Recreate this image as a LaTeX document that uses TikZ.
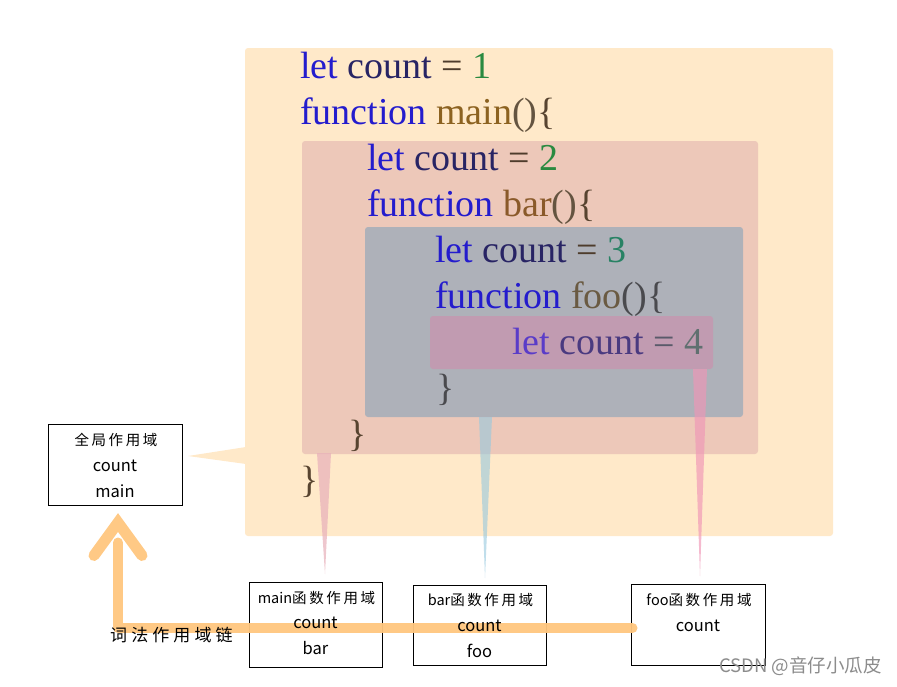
\documentclass[tikz,border=0pt]{standalone}
\usepackage{fontspec}
\setmainfont{Liberation Serif}
\newfontfamily\cjk{Noto Sans CJK SC}
\newfontfamily\cjkhead[LetterSpace=18]{Noto Sans CJK SC}
\newfontfamily\cjkwide[LetterSpace=24]{Noto Sans CJK SC}
\definecolor{orangebg}{RGB}{255,233,201}
\definecolor{redbg}{RGB}{237,200,185}
\definecolor{graybg}{RGB}{174,177,185}
\definecolor{pinkbg}{RGB}{193,155,177}
\definecolor{kw}{RGB}{36,28,205}
\definecolor{cnt}{RGB}{40,36,100}
\definecolor{eqc}{RGB}{78,60,44}
\definecolor{numc}{RGB}{42,138,64}
\definecolor{numt}{RGB}{40,130,100}
\definecolor{fnmain}{RGB}{140,98,32}
\definecolor{fnbar}{RGB}{138,90,42}
\definecolor{fnfoo}{RGB}{106,90,66}
\definecolor{paren}{RGB}{100,84,64}
\definecolor{brace}{RGB}{88,68,48}
\definecolor{braceg}{RGB}{74,74,78}
\definecolor{kwp}{RGB}{90,60,200}
\definecolor{cntp}{RGB}{74,58,128}
\definecolor{eqp}{RGB}{90,90,106}
\definecolor{nump}{RGB}{96,112,112}
\definecolor{chainc}{RGB}{255,199,127}
\definecolor{redwedge}{RGB}{232,176,186}
\definecolor{graywedge}{RGB}{150,200,222}
\definecolor{pinkwedge}{RGB}{240,150,182}
\definecolor{wm}{RGB}{140,140,140}
\begin{document}
\begin{tikzpicture}[x=1pt,y=-1pt,
  code/.style={anchor=base west,inner sep=0pt,font=\fontsize{38}{46}\selectfont},
  scopebox/.style={draw=black,line width=1pt,inner sep=0pt},
  boxhead/.style={inner sep=0pt,font=\cjkhead\fontsize{14.5}{16}\selectfont},
  boxtxt/.style={inner sep=0pt,font=\cjk\fontsize{16.5}{18}\selectfont},
  chain/.style={draw=chainc,line width=10pt,line cap=round,line join=round,opacity=0.95},
  chainhead/.style={draw=chainc,line width=11pt,line cap=round,line join=miter,opacity=0.95}]
\useasboundingbox (0,0) rectangle (897,686);
\fill[white] (0,0) rectangle (897,686);

% scopes
\fill[orangebg, rounded corners=3pt] (245,48) rectangle (833,536);
\fill[orangebg] (246,447) -- (188,456) -- (246,464) -- cycle;
\fill[redbg, rounded corners=3pt] (302,141) rectangle (758,454);
\fill[graybg, rounded corners=3pt] (365,227) rectangle (743,417);
\fill[pinkbg, rounded corners=3pt] (430,316) rectangle (713,369);
\fill[redwedge, opacity=0.7] (317,453) -- (331,453) -- (325,574) -- cycle;
\fill[graywedge, opacity=0.6] (479,417) -- (492,417) -- (485,578) -- cycle;
\fill[pinkwedge, opacity=0.65] (693,369) -- (707,369) -- (700,576) -- cycle;

% code
\node[code] (l1) at (300,78) {\textcolor{kw}{let} \textcolor{cnt}{count} \textcolor{eqc}{=} \textcolor{numc}{1}};
\node[code] (l2) at (300,124) {\textcolor{kw}{function} \textcolor{fnmain}{main}\textcolor{paren}{()}\textcolor{brace}{\{}};
\node[code] (l3) at (367,170) {\textcolor{kw}{let} \textcolor{cnt}{count} \textcolor{eqc}{=} \textcolor{numc}{2}};
\node[code] (l4) at (367,216) {\textcolor{kw}{function} \textcolor{fnbar}{bar}\textcolor{paren}{()}\textcolor{brace}{\{}};
\node[code] (l5) at (435,262) {\textcolor{kw}{let} \textcolor{cnt}{count} \textcolor{eqc}{=} \textcolor{numt}{3}};
\node[code] (l6) at (435,308) {\textcolor{kw}{function} \textcolor{fnfoo}{foo}\textcolor{braceg}{()\{}};
\node[code] (l7) at (512,354) {\textcolor{kwp}{let} \textcolor{cntp}{count} \textcolor{eqp}{=} \textcolor{nump}{4}};
\node[code] (l8) at (436,400) {\textcolor{braceg}{\}}};
\node[code] (l9) at (348,446) {\textcolor{brace}{\}}};
\node[code] (l10) at (300,492) {\textcolor{brace}{\}}};

% lexical chain
\node[scopebox, minimum width=134pt, minimum height=81pt] (g) at (115,464.5) {};
\node[scopebox, minimum width=133pt, minimum height=85pt] (mb) at (315.5,624.5) {};
\node[scopebox, minimum width=133pt, minimum height=80pt] (bb) at (479.5,625) {};
\node[scopebox, minimum width=134pt, minimum height=81pt] (fb) at (698,624.5) {};
\coordinate (turn) at (118,628);
\coordinate (apex) at ([xshift=3pt,yshift=-17pt]g.south);
\draw[chain] ([xshift=2pt,yshift=-3.5pt]fb.west) -- (turn) -- ([yshift=-20pt]apex);
\draw[chainhead] ([xshift=-24pt,yshift=-33pt]apex) -- (apex) -- ([xshift=24pt,yshift=-33pt]apex);

% box texts
\node[boxhead] (gh) at (116,440) {全局作用域};
\node[boxtxt] (gc) at (115,466) {count};
\node[boxtxt] (gm) at (115,491) {main};
\node[boxhead] (mh) at (316.5,598) {{\cjk main}函数作用域};
\node[boxtxt] (mc) at (315.5,623) {count};
\node[boxtxt] (mbar) at (315.5,648) {bar};
\node[boxhead] (bh) at (480.5,600) {{\cjk bar}函数作用域};
\node[boxtxt] (bc) at (479.5,626) {count};
\node[boxtxt] (bf) at (479.5,651) {foo};
\node[boxhead] (fh) at (699,600) {{\cjk foo}函数作用域};
\node[boxtxt] (fc) at (698,626) {count};
\node[inner sep=0pt, font=\cjkwide\fontsize{17}{19}\selectfont, anchor=west] (chainlabel) at (110,635) {词法作用域链};
\node[inner sep=0pt, font=\cjk\fontsize{18.5}{20}\selectfont, text=wm, anchor=east] (wmark) at (882,666) {CSDN @音仔小瓜皮};
\end{tikzpicture}
\end{document}
